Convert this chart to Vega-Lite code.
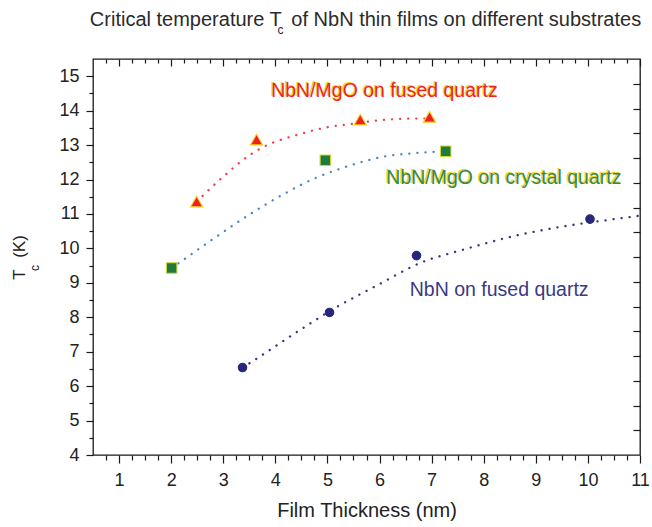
{
  "$schema": "https://vega.github.io/schema/vega-lite/v6.json",
  "width": 547,
  "height": 396,
  "autosize": {"type": "none"},
  "padding": {"left": 93, "top": 59, "right": 12, "bottom": 72},
  "background": "white",
  "title": {"text": "Critical temperature T\u2009 of NbN thin films on different substrates", "font": "Liberation Sans", "fontSize": 20, "fontWeight": "normal", "color": "#2a2a2a", "anchor": "middle", "baseline": "bottom", "offset": -26, "dx": -1},
  "config": {
    "view": {"stroke": "#1a1a1a", "strokeWidth": 1.3},
    "axis": {"grid": false, "domain": false, "labelFont": "Liberation Sans", "titleFont": "Liberation Sans", "labelColor": "#222222", "titleColor": "#222222", "tickColor": "#1a1a1a", "tickWidth": 1.2, "labelFontSize": 18, "titleFontSize": 20, "titleFontWeight": "normal", "labelOverlap": false, "labelFlush": false}
  },
  "datasets": {
    "curves": [
      {"series": "fused", "x": 2.49, "y": 11.36},
      {"series": "fused", "x": 2.99, "y": 12.07},
      {"series": "fused", "x": 3.47, "y": 12.67},
      {"series": "fused", "x": 3.79, "y": 12.96},
      {"series": "fused", "x": 4.43, "y": 13.30},
      {"series": "fused", "x": 4.94, "y": 13.50},
      {"series": "fused", "x": 5.49, "y": 13.62},
      {"series": "fused", "x": 6.0, "y": 13.72},
      {"series": "fused", "x": 6.64, "y": 13.77},
      {"series": "fused", "x": 6.93, "y": 13.77},
      {"series": "crystal", "x": 2.01, "y": 9.43},
      {"series": "crystal", "x": 2.19, "y": 9.62},
      {"series": "crystal", "x": 2.83, "y": 10.30},
      {"series": "crystal", "x": 3.5, "y": 10.98},
      {"series": "crystal", "x": 4.14, "y": 11.56},
      {"series": "crystal", "x": 4.78, "y": 12.05},
      {"series": "crystal", "x": 5.42, "y": 12.40},
      {"series": "crystal", "x": 6.06, "y": 12.66},
      {"series": "crystal", "x": 6.71, "y": 12.77},
      {"series": "crystal", "x": 7.27, "y": 12.82},
      {"series": "nbn", "x": 3.37, "y": 6.54},
      {"series": "nbn", "x": 3.53, "y": 6.69},
      {"series": "nbn", "x": 4.33, "y": 7.49},
      {"series": "nbn", "x": 5.17, "y": 8.29},
      {"series": "nbn", "x": 5.97, "y": 8.94},
      {"series": "nbn", "x": 6.77, "y": 9.57},
      {"series": "nbn", "x": 7.6, "y": 9.96},
      {"series": "nbn", "x": 8.56, "y": 10.35},
      {"series": "nbn", "x": 9.53, "y": 10.64},
      {"series": "nbn", "x": 10.17, "y": 10.78},
      {"series": "nbn", "x": 11.0, "y": 10.95}
    ],
    "points": [
      {"series": "fused", "x": 2.49, "y": 11.36},
      {"series": "fused", "x": 3.64, "y": 13.16},
      {"series": "fused", "x": 5.63, "y": 13.74},
      {"series": "fused", "x": 6.96, "y": 13.82},
      {"series": "crystal", "x": 2.01, "y": 9.43},
      {"series": "crystal", "x": 4.96, "y": 12.56},
      {"series": "crystal", "x": 7.27, "y": 12.82},
      {"series": "nbn", "x": 3.37, "y": 6.54},
      {"series": "nbn", "x": 5.04, "y": 8.14},
      {"series": "nbn", "x": 6.71, "y": 9.79},
      {"series": "nbn", "x": 10.04, "y": 10.85}
    ],
    "labels": [
      {"series": "fused", "label": "NbN/MgO on fused quartz", "x": 3.92, "y": 14.56},
      {"series": "crystal", "label": "NbN/MgO on crystal quartz", "x": 6.13, "y": 12.05},
      {"series": "nbn", "label": "NbN on fused quartz", "x": 6.58, "y": 8.78}
    ],
    "subTitle": [{"t": "c", "x": 4.10, "y": 16.34}],
    "subAxis": [{"t": "c", "x": -0.62, "y": 9.43}]
  },
  "resolve": {
    "axis": {"x": "independent", "y": "independent"},
    "scale": {"color": "independent", "shape": "independent", "stroke": "independent", "size": "independent"}
  },
  "layer": [
    {
      "data": {"name": "curves"},
      "mark": {"type": "line", "interpolate": "monotone", "strokeDash": [0.1, 8], "strokeCap": "round", "strokeWidth": 2.3},
      "encoding": {
        "x": {"field": "x", "type": "quantitative", "scale": {"domain": [0.5, 11], "nice": false, "zero": false},
              "axis": {"orient": "bottom", "values": [1, 2, 3, 4, 5, 6, 7, 8, 9, 10, 11], "tickSize": 8, "labelPadding": 8, "title": "Film Thickness (nm)", "titlePadding": 11}},
        "y": {"field": "y", "type": "quantitative", "scale": {"domain": [4, 15.5], "nice": false, "zero": false},
              "axis": {"orient": "left", "values": [4, 5, 6, 7, 8, 9, 10, 11, 12, 13, 14, 15], "tickSize": 7, "labelPadding": 7, "title": "T\u2009\u2009 (K)", "titleFontSize": 17, "titlePadding": 30}},
        "color": {"field": "series", "type": "nominal", "scale": {"domain": ["fused", "crystal", "nbn"], "range": ["#ec3e4e", "#4a86c0", "#34337f"]}, "legend": null}
      }
    },
    {
      "data": {"name": "points"},
      "mark": {"type": "point", "filled": true, "opacity": 1, "strokeWidth": 1.1},
      "encoding": {
        "x": {"field": "x", "type": "quantitative",
              "axis": {"orient": "bottom", "values": [0.75, 1.25, 1.5, 1.75, 2.25, 2.5, 2.75, 3.25, 3.5, 3.75, 4.25, 4.5, 4.75, 5.25, 5.5, 5.75, 6.25, 6.5, 6.75, 7.25, 7.5, 7.75, 8.25, 8.5, 8.75, 9.25, 9.5, 9.75, 10.25, 10.5, 10.75], "tickSize": 5, "labels": false, "title": null}},
        "y": {"field": "y", "type": "quantitative",
              "axis": {"orient": "left", "values": [4.5, 5.5, 6.5, 7.5, 8.5, 9.5, 10.5, 11.5, 12.5, 13.5, 14.5], "tickSize": 4, "labels": false, "title": null}},
        "color": {"field": "series", "type": "nominal", "scale": {"domain": ["fused", "crystal", "nbn"], "range": ["#ee1f26", "#1e7b3c", "#28277a"]}, "legend": null},
        "stroke": {"field": "series", "type": "nominal", "scale": {"domain": ["fused", "crystal", "nbn"], "range": ["#f5d31a", "#d2d83a", "#28277a"]}, "legend": null},
        "shape": {"field": "series", "type": "nominal", "scale": {"domain": ["fused", "crystal", "nbn"], "range": ["triangle-up", "square", "circle"]}, "legend": null},
        "size": {"field": "series", "type": "nominal", "scale": {"domain": ["fused", "crystal", "nbn"], "range": [150, 72, 90]}, "legend": null}
      }
    },
    {
      "data": {"name": "labels"},
      "transform": [{"filter": "datum.series !== 'nbn'"}],
      "mark": {"type": "text", "align": "left", "baseline": "middle", "font": "Liberation Sans", "fontSize": 19.5, "dx": -1.2, "dy": -0.9, "color": "#f2d21b"},
      "encoding": {
        "x": {"field": "x", "type": "quantitative",
              "axis": {"orient": "top", "values": [1, 2, 3, 4, 5, 6, 7, 8, 9, 10, 11], "tickSize": -7, "labels": false, "title": null}},
        "y": {"field": "y", "type": "quantitative",
              "axis": {"orient": "right", "values": [4.71875, 5.4375, 6.15625, 6.875, 7.59375, 8.3125, 9.03125, 9.75, 10.46875, 11.1875, 11.90625, 12.625, 13.34375, 14.0625, 14.78125], "tickSize": -7, "labels": false, "title": null}},
        "text": {"field": "label"}
      }
    },
    {
      "data": {"name": "labels"},
      "mark": {"type": "text", "align": "left", "baseline": "middle", "font": "Liberation Sans", "fontSize": 19.5},
      "encoding": {
        "x": {"field": "x", "type": "quantitative",
              "axis": {"orient": "top", "values": [0.75, 1.25, 1.5, 1.75, 2.25, 2.5, 2.75, 3.25, 3.5, 3.75, 4.25, 4.5, 4.75, 5.25, 5.5, 5.75, 6.25, 6.5, 6.75, 7.25, 7.5, 7.75, 8.25, 8.5, 8.75, 9.25, 9.5, 9.75, 10.25, 10.5, 10.75], "tickSize": -4, "labels": false, "title": null}},
        "y": {"field": "y", "type": "quantitative", "axis": null},
        "text": {"field": "label"},
        "color": {"field": "series", "type": "nominal", "scale": {"domain": ["fused", "crystal", "nbn"], "range": ["#ee2424", "#2f8a4e", "#3a3985"]}, "legend": null}
      }
    },
    {
      "data": {"name": "subTitle"},
      "mark": {"type": "text", "font": "Liberation Sans", "fontSize": 12, "color": "#2a2a2a", "align": "center", "baseline": "middle"},
      "encoding": {
        "x": {"field": "x", "type": "quantitative", "axis": null},
        "y": {"field": "y", "type": "quantitative", "axis": null},
        "text": {"field": "t"}
      }
    },
    {
      "data": {"name": "subAxis"},
      "mark": {"type": "text", "font": "Liberation Sans", "fontSize": 12, "color": "#222222", "align": "center", "baseline": "middle", "angle": 270},
      "encoding": {
        "x": {"field": "x", "type": "quantitative", "axis": null},
        "y": {"field": "y", "type": "quantitative", "axis": null},
        "text": {"field": "t"}
      }
    }
  ]
}
